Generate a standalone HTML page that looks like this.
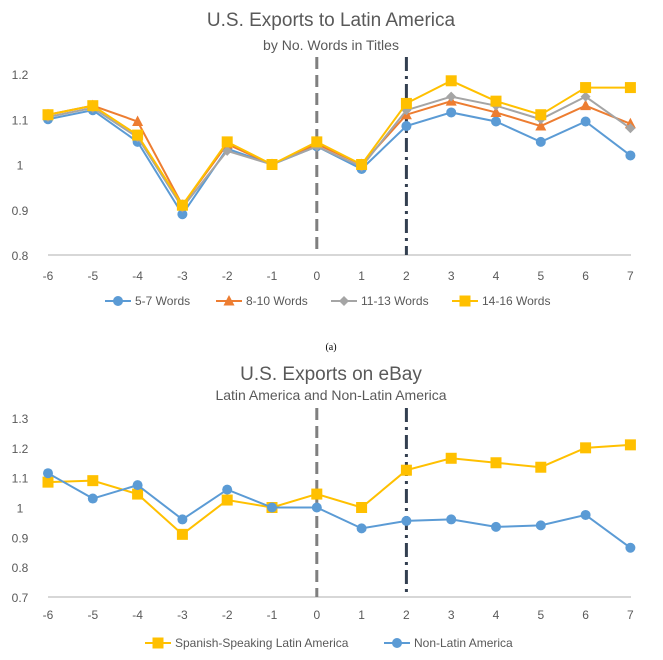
<!DOCTYPE html>
<html><head><meta charset="utf-8"><style>
body{margin:0;background:#fff;width:663px;height:660px;overflow:hidden}
svg{display:block;font-family:"Liberation Sans",sans-serif}
</style></head><body>
<svg id="s" width="663" height="660">
<text x="331" y="26" text-anchor="middle" font-size="19" fill="#595959">U.S. Exports to Latin America</text>
<text x="331" y="50" text-anchor="middle" font-size="14" fill="#595959">by No. Words in Titles</text>
<text x="331" y="350" text-anchor="middle" font-size="10" font-family="Liberation Serif,serif" fill="#000">(a)</text>
<text x="331" y="380" text-anchor="middle" font-size="19" fill="#595959">U.S. Exports on eBay</text>
<text x="331" y="400" text-anchor="middle" font-size="14" fill="#595959">Latin America and Non-Latin America</text>
</svg>
<script>
const cats=[-6,-5,-4,-3,-2,-1,0,1,2,3,4,5,6,7];
const s57=[1.10,1.12,1.05,0.89,1.035,1.0,1.04,0.99,1.085,1.115,1.095,1.05,1.095,1.02];
const s810=[1.11,1.13,1.095,0.91,1.045,1.0,1.045,1.0,1.11,1.14,1.115,1.085,1.13,1.09];
const s1113=[1.105,1.125,1.06,0.905,1.03,1.0,1.04,0.995,1.12,1.15,1.13,1.10,1.15,1.08];
const s1416=[1.11,1.13,1.065,0.91,1.05,1.0,1.05,1.0,1.135,1.185,1.14,1.11,1.17,1.17];
const ticksA=[0.8,0.9,1,1.1,1.2];
const spanish=[1.085,1.09,1.045,0.91,1.025,1.0,1.045,1.0,1.125,1.165,1.15,1.135,1.2,1.21];
const nonLatin=[1.115,1.03,1.075,0.96,1.06,1.0,1.0,0.93,0.955,0.96,0.935,0.94,0.975,0.865];
const ticksB=[0.7,0.8,0.9,1,1.1,1.2,1.3];
const svg=document.getElementById('s');
const NS='http://www.w3.org/2000/svg';
function mk(t,a){const e=document.createElementNS(NS,t);for(const k in a)e.setAttribute(k,a[k]);svg.appendChild(e);return e;}
const xS=c=>48+(c+6)*44.8;
function chart(pre,ymin,ymax,ytop,ybot,ticks,series,xlabY,vTop){
  const yS=v=>ybot-(v-ymin)/(ymax-ymin)*(ybot-ytop);
  ticks.forEach(t=>{const e=mk('text',{x:20,y:yS(t)+5,'text-anchor':'middle','font-size':12,fill:'#595959'});e.textContent=String(t);
    
    });
  const ax=mk('line',{x1:48,x2:631,y1:ybot,y2:ybot,stroke:'#bfbfbf','stroke-width':1.2});
  
  
  cats.forEach(c=>{const e=mk('text',{x:xS(c),y:xlabY,'text-anchor':'middle','font-size':12,fill:'#595959'});e.textContent=String(c);
    
    });
  const v1=mk('line',{x1:xS(0),x2:xS(0),y1:vTop,y2:ybot,stroke:'#7f7f7f','stroke-width':3,'stroke-dasharray':'12,6'});
  
  
  const v2=mk('line',{x1:xS(2),x2:xS(2),y1:vTop,y2:ybot,stroke:'#333f50','stroke-width':3,'stroke-dasharray':'14,5,3,5'});
  
  
  series.forEach(sr=>{
    const p=mk('polyline',{points:sr.d.map((v,i)=>xS(cats[i])+','+yS(v)).join(' '),fill:'none',stroke:sr.c,'stroke-width':2});
    
    
    sr.d.forEach((v,i)=>{const m=marker(sr.m,xS(cats[i]),yS(v),sr.c);
      
      });
  });
}
function marker(t,x,y,c){
  if(t==='c')return mk('circle',{cx:x,cy:y,r:5,fill:c});
  if(t==='s')return mk('rect',{x:x-5.5,y:y-5.5,width:11,height:11,fill:c});
  if(t==='t')return mk('polygon',{points:`${x},${y-6} ${x+5.5},${y+4.5} ${x-5.5},${y+4.5}`,fill:c});
  return mk('polygon',{points:`${x},${y-5} ${x+5},${y} ${x},${y+5} ${x-5},${y}`,fill:c});
}
chart('chart-a',0.8,1.2,74,255,ticksA,[
 {n:'5-7',d:s57,c:'#5b9bd5',m:'c'},{n:'8-10',d:s810,c:'#ed7d31',m:'t'},
 {n:'11-13',d:s1113,c:'#a5a5a5',m:'d'},{n:'14-16',d:s1416,c:'#ffc000',m:'s'}],280,57);
chart('chart-b',0.7,1.3,418,597,ticksB,[
 {n:'spanish',d:spanish,c:'#ffc000',m:'s'},{n:'non-latin',d:nonLatin,c:'#5b9bd5',m:'c'}],619,408);
function legend(items,y){
  items.forEach(it=>{
    const l=mk('line',{x1:it.x,x2:it.x+26,y1:y,y2:y,stroke:it.c,'stroke-width':2});
    
    
    marker(it.m,it.x+13,y,it.c);
    const t=mk('text',{x:it.x+30,y:y+4,'font-size':12,fill:'#595959'});t.textContent=it.t;
    
    
  });
}
legend([{x:105,t:'5-7 Words',c:'#5b9bd5',m:'c'},{x:216,t:'8-10 Words',c:'#ed7d31',m:'t'},
 {x:331,t:'11-13 Words',c:'#a5a5a5',m:'d'},{x:452,t:'14-16 Words',c:'#ffc000',m:'s'}],301);
legend([{x:145,t:'Spanish-Speaking Latin America',c:'#ffc000',m:'s'},{x:384,t:'Non-Latin America',c:'#5b9bd5',m:'c'}],643);
</script>
</body></html>
